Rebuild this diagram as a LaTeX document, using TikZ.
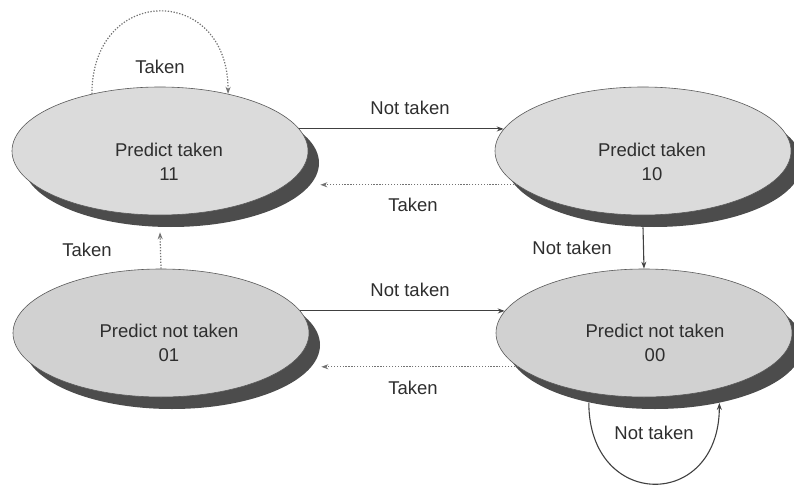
\documentclass[tikz,border=0pt]{standalone}
\usepackage{fontspec}
\setmainfont{Liberation Sans}
\usetikzlibrary{shapes.geometric,arrows.meta,shadows}
\begin{document}
\begin{tikzpicture}[x=1pt,y=1pt,
  state/.style={ellipse, draw=black!65, line width=0.6pt, fill=black!14,
    minimum width=296pt, minimum height=128pt, inner sep=0pt,
    drop shadow={shadow xshift=11pt, shadow yshift=-12pt, fill=black!70, opacity=1}},
  lowstate/.style={state, fill=black!18},
  lbl/.style={font=\fontsize{18.5}{24.5}\selectfont, text=black!82, inner sep=0pt},
  stxt/.style={lbl, align=center},
  solidarr/.style={draw=black!75, line width=1.1pt, -{Stealth[length=7pt,width=5pt]}},
  dotarr/.style={draw=black!55, line width=1.2pt, dash pattern=on 1.3pt off 1.6pt, -{Stealth[length=7pt,width=5pt]}}]
\useasboundingbox (0,0) rectangle (794,488);
% states
\node[state] (n11) at (160,337) {};
\node[state] (n10) at (643,337) {};
\node[lowstate] (n01) at (161,155) {};
\node[lowstate] (n00) at (644,155) {};
\node[stxt] (t11) at ([shift={(9pt,-11pt)}]n11.center) {Predict taken\\11};
\node[stxt] (t10) at ([shift={(9pt,-11pt)}]n10.center) {Predict taken\\10};
\node[stxt] (t01) at ([shift={(8pt,-10pt)}]n01.center) {Predict not taken\\01};
\node[stxt] (t00) at ([shift={(11pt,-10pt)}]n00.center) {Predict not taken\\00};
% transitions
\draw[solidarr] (n11.9) -- (n10.171);
\draw[dotarr] (n10.195) -- ([xshift=12pt]n11.east |- n10.195);
\draw[solidarr] ([yshift=-12pt]n10.south) -- (n00.north);
\draw[dotarr] (n01.north) -- ([yshift=-17pt]n11.south);
\draw[solidarr] (n01.9) -- (n00.171);
\draw[dotarr] (n00.195) -- ([xshift=12pt]n01.east |- n00.195);
\draw[dotarr] (n11.140) .. controls +(0,110) and +(0,110) .. (n11.40);
\draw[solidarr] ([shift={(11pt,-12pt)}]n00.221) .. controls +(0,-108) and +(0,-108) .. ([shift={(11pt,-12pt)}]n00.318);
% labels
\node[lbl] (l1) at (160,421) {Taken};
\node[lbl] (l2) at (410,380) {Not taken};
\node[lbl] (l3) at (413,283) {Taken};
\node[lbl] (l4) at (572,240) {Not taken};
\node[lbl] (l5) at (87,238) {Taken};
\node[lbl] (l6) at (410,198) {Not taken};
\node[lbl] (l7) at (413,100) {Taken};
\node[lbl] (l8) at (654,55) {Not taken};
\end{tikzpicture}
\end{document}
